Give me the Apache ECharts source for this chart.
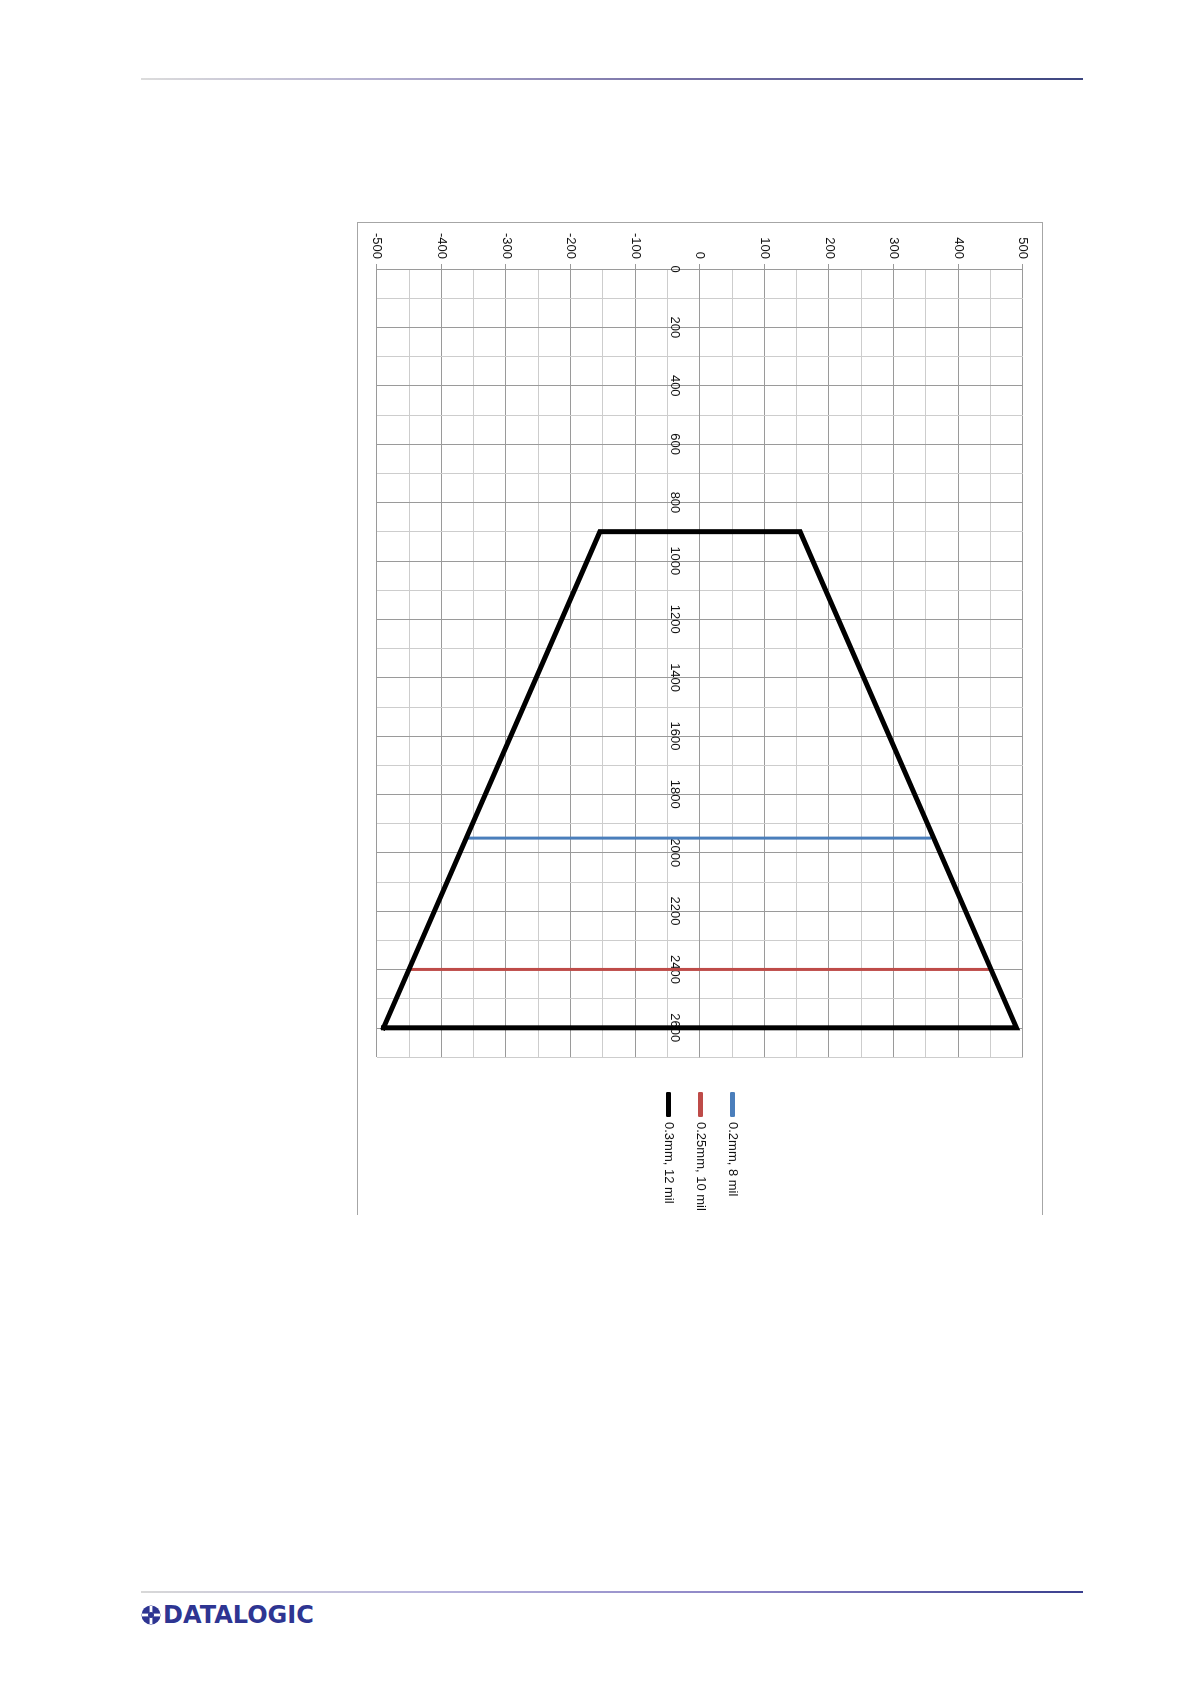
<!DOCTYPE html>
<html>
<head>
<meta charset="utf-8">
<script src="https://cdn.jsdelivr.net/npm/echarts@6/dist/echarts.min.js"></script>
<style>
  html, body { margin: 0; padding: 0; background: #fff; }
  body { width: 1190px; height: 1684px; position: relative; overflow: hidden; font-family: "Liberation Sans", Arial, sans-serif; }
  #header { position: absolute; left: 141px; top: 78px; width: 942px; height: 2px;
    background: linear-gradient(to right, #dcdcdc 0%, #b4b0d0 25%, #7a74a8 55%, #3d4680 100%); }
  #footer { position: absolute; left: 141px; top: 1591px; width: 942px; height: 2px;
    background: linear-gradient(to right, #d8d8d8 0%, #b8b4dc 30%, #8a82c4 65%, #3a3f8e 100%); }
  #frame { position: absolute; left: 357px; top: 222px; width: 684px; height: 992px;
    border-left: 1px solid #a6a6a6; border-top: 1px solid #a6a6a6; border-right: 1px solid #a6a6a6; }
  #chart { position: absolute; left: 1043px; top: 222px; width: 1060px; height: 686px;
    transform-origin: 0 0; transform: rotate(90deg); }
  #logo { position: absolute; left: 141px; top: 1602px; height: 26px; display: flex; align-items: center; }
  #logo span { font-family: "DejaVu Sans", sans-serif; font-weight: bold; font-size: 24px; color: #2e3592; letter-spacing: 0px; margin-left: 2px; }
</style>
</head>
<body>
<div id="header"></div>
<div id="frame"></div>
<div id="chart"></div>
<div id="footer"></div>
<div id="logo">
  <svg width="20" height="20" viewBox="0 0 20 20">
    <circle cx="10" cy="10" r="9.5" fill="#2e3592"/>
    <rect x="8.6" y="1" width="2.8" height="18" fill="#fff"/>
    <rect x="1" y="8.6" width="18" height="2.8" fill="#fff"/>
    <circle cx="10" cy="10" r="3" fill="#2e3592"/>
  </svg>
  <span>DATALOGIC</span>
</div>
<script>
// ---- data (distance along the reading axis in mm, lateral field in mm) ----
const seriesNames = ['0.2mm, 8 mil', '0.25mm, 10 mil', '0.3mm, 12 mil'];
const seriesColors = ['#4a7ebb', '#be4b48', '#000000'];

const blueDistance = [1950, 1950];
const blueLateral = [-362, 358];

const redDistance = [2400, 2400];
const redLateral = [-450, 448];

const blackDistance = [2600, 900, 900, 2600, 2600];
const blackLateral = [-490, -155, 155, 490, -490];

const distanceMin = 0, distanceMax = 2700, distanceStep = 100, distanceLabelStep = 200;
const lateralMin = -500, lateralMax = 500, lateralStep = 100;

function pairs(xs, ys) { return xs.map((x, i) => [x, ys[i]]); }

const chart = echarts.init(document.getElementById('chart'), null, { renderer: 'canvas' });

const majorColor = '#9a9a9a';
const minorColor = '#cdcdcd';
const fontFam = "'Liberation Sans', Arial, sans-serif";
const labelFont = { fontFamily: fontFam, fontSize: 13, color: '#111' };

chart.setOption({
  animation: false,
  backgroundColor: 'transparent',
  grid: { left: 47, top: 20, width: 788, height: 646, containLabel: false, outerBoundsMode: 'none' },
  legend: {
    orient: 'vertical',
    left: 865,
    top: 299,
    itemWidth: 25,
    itemHeight: 5,
    itemGap: 19,
    icon: 'roundRect',
    textStyle: { fontFamily: fontFam, fontSize: 13, color: '#111' },
    data: seriesNames
  },
  xAxis: {
    type: 'value',
    min: distanceMin,
    max: distanceMax,
    interval: distanceStep,
    position: 'bottom',
    offset: -323,
    axisLine: { show: true, onZero: false, lineStyle: { color: majorColor, width: 1 } },
    axisTick: { show: false },
    axisLabel: Object.assign({
      margin: 19,
      formatter: v => (v % distanceLabelStep === 0 && v < distanceMax) ? String(v) : ''
    }, labelFont),
    splitLine: { show: true, lineStyle: { color: [majorColor, minorColor], width: 1 } }
  },
  yAxis: {
    type: 'value',
    min: lateralMin,
    max: lateralMax,
    interval: lateralStep,
    axisLine: { show: false, onZero: false },
    axisTick: { show: true, length: 5, inside: false, lineStyle: { color: majorColor } },
    axisLabel: Object.assign({ margin: 10 }, labelFont),
    splitLine: { show: true, lineStyle: { color: majorColor, width: 1 } },
    minorTick: { show: false, splitNumber: 2 },
    minorSplitLine: { show: true, lineStyle: { color: minorColor, width: 1 } }
  },
  series: [
    { name: seriesNames[0], type: 'line', data: pairs(blueDistance, blueLateral), showSymbol: false, symbol: 'none',
      color: seriesColors[0], lineStyle: { color: seriesColors[0], width: 3 }, z: 3 },
    { name: seriesNames[1], type: 'line', data: pairs(redDistance, redLateral), showSymbol: false, symbol: 'none',
      color: seriesColors[1], lineStyle: { color: seriesColors[1], width: 3 }, z: 3 },
    { name: seriesNames[2], type: 'line', data: pairs(blackDistance, blackLateral), showSymbol: false, symbol: 'none',
      color: seriesColors[2], lineStyle: { color: seriesColors[2], width: 5, join: 'miter', cap: 'square' }, z: 4 }
  ]
});
</script>
</body>
</html>
